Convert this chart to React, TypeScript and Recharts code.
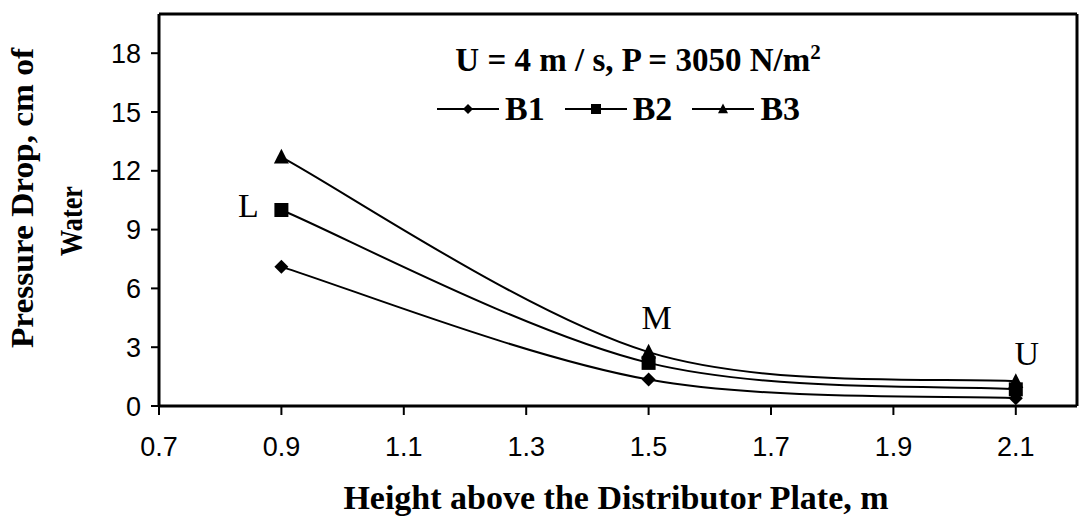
import React from "react"
import {
  LineChart,
  Line,
  XAxis,
  YAxis,
  Legend,
  ReferenceLine,
  ReferenceDot,
} from "recharts"

// heights above the distributor plate (m)
const HEIGHTS = [0.9, 1.5, 2.1]
// pressure drop, cm of water
const B1 = [7.1, 1.35, 0.4]
const B2 = [10.0, 2.2, 0.85]
const B3 = [12.7, 2.75, 1.25]
const SERIES = ["B1", "B2", "B3"]
const ZONES = ["L", "M", "U"]
const X_TICKS = [0.7, 0.9, 1.1, 1.3, 1.5, 1.7, 1.9, 2.1]
const Y_TICKS = [0, 3, 6, 9, 12, 15, 18]

const data = HEIGHTS.map((h, i) => ({ h, B1: B1[i], B2: B2[i], B3: B3[i] }))

const SERIF = "'Liberation Serif', 'Times New Roman', serif"
const SANS = "'Liberation Sans', Arial, sans-serif"

const SHAPES: Record<string, string> = { B1: "diamond", B2: "square", B3: "triangle" }

// spreadsheet-style smoothed line: cubic beziers with catmull-rom tangents
function smoothCurve(context: any) {
  let pts: number[][] = []
  return {
    areaStart() {},
    areaEnd() {},
    lineStart() {
      pts = []
    },
    point(x: number, y: number) {
      pts.push([+x, +y])
    },
    lineEnd() {
      if (!pts.length) return
      context.moveTo(pts[0][0], pts[0][1])
      for (let i = 0; i < pts.length - 1; i++) {
        const p0 = pts[i - 1] || pts[i]
        const p1 = pts[i]
        const p2 = pts[i + 1]
        const p3 = pts[i + 2] || pts[i + 1]
        context.bezierCurveTo(
          p1[0] + (p2[0] - p0[0]) / 6,
          p1[1] + (p2[1] - p0[1]) / 6,
          p2[0] - (p3[0] - p1[0]) / 6,
          p2[1] - (p3[1] - p1[1]) / 6,
          p2[0],
          p2[1]
        )
      }
    },
  }
}

function Marker({ cx, cy, shape, size }: { cx: number; cy: number; shape: string; size: number }) {
  const s = size / 2
  if (shape === "square") {
    return <rect x={cx - s} y={cy - s} width={size} height={size} fill="#000" />
  }
  if (shape === "triangle") {
    return (
      <polygon
        points={`${cx},${cy - s * 1.1} ${cx + s},${cy + s * 0.85} ${cx - s},${cy + s * 0.85}`}
        fill="#000"
      />
    )
  }
  return (
    <polygon points={`${cx},${cy - s} ${cx + s},${cy} ${cx},${cy + s} ${cx - s},${cy}`} fill="#000" />
  )
}

const dotFor = (name: string, size: number) => (p: any) =>
  <Marker key={`${name}-${p.index}`} cx={p.cx} cy={p.cy} shape={SHAPES[name]} size={size} />

function YTitle() {
  return (
    <g fontFamily={SERIF} fontWeight="bold" fontSize={32} fill="#000">
      <text
        x={33}
        y={198}
        transform="rotate(-90 33 198)"
        textAnchor="middle"
        textLength={300}
        lengthAdjust="spacingAndGlyphs"
      >
        Pressure Drop, cm of
      </text>
      <text
        x={82}
        y={221}
        transform="rotate(-90 82 221)"
        textAnchor="middle"
        textLength={70}
        lengthAdjust="spacingAndGlyphs"
      >
        Water
      </text>
    </g>
  )
}

function XTitle() {
  return (
    <text x={616} y={509} textAnchor="middle" fontFamily={SERIF} fontWeight="bold" fontSize={34} fill="#000">
      Height above the Distributor Plate, m
    </text>
  )
}

// offsets of the zone letters from the point they belong to
const ZONE_OFFSET: Record<string, [number, number]> = {
  L: [-33, -5],
  M: [8, -35],
  U: [11, -28],
}

const zoneLabel = (zone: string) => (props: any) => {
  const vb = props.viewBox || {}
  const [dx, dy] = ZONE_OFFSET[zone]
  return (
    <text
      x={vb.x + dx}
      y={vb.y + dy}
      textAnchor="middle"
      dominantBaseline="central"
      fontFamily={SERIF}
      fontSize={34}
      fill="#000"
    >
      {zone}
    </text>
  )
}

function LegendBox(props: any) {
  const payload = props.payload || []
  return (
    <div style={{ position: "relative", height: 130, fontFamily: SERIF, fontWeight: "bold", color: "#000" }}>
      <div
        style={{
          position: "absolute",
          left: 338,
          top: 43,
          width: 600,
          textAlign: "center",
          fontSize: 33,
          lineHeight: "34px",
          whiteSpace: "nowrap",
        }}
      >
        U = 4 m / s, P = 3050 N/m<sup style={{ fontSize: 21, lineHeight: 0 }}>2</sup>
      </div>
      <div
        style={{
          position: "absolute",
          left: 437,
          top: 92,
          display: "flex",
          alignItems: "center",
          fontSize: 34,
          lineHeight: "34px",
        }}
      >
        {payload.map((entry: any) => (
          <div key={entry.value} style={{ display: "flex", alignItems: "center", marginRight: 20 }}>
            <svg width={62} height={20}>
              <line x1={0} y1={10} x2={62} y2={10} stroke="#000" strokeWidth={2} />
              <Marker cx={31} cy={10} shape={SHAPES[entry.value]} size={10} />
            </svg>
            <span style={{ marginLeft: 6 }}>{entry.value}</span>
          </div>
        ))}
      </div>
    </div>
  )
}

export default function App() {
  const seriesValues: Record<string, number[]> = { B1, B2, B3 }
  return (
    <div style={{ position: "fixed", left: 0, top: 0, width: 1081, height: 525, background: "#fff" }}>
      <LineChart width={1081} height={525} data={data} margin={{ top: 14, right: 4, left: 99, bottom: 59 }}>
        <XAxis
          type="number"
          dataKey="h"
          domain={[0.7, 2.2]}
          ticks={X_TICKS}
          tickFormatter={(v: number) => v.toFixed(1)}
          allowDataOverflow
          height={60}
          axisLine={{ stroke: "#000", strokeWidth: 3 }}
          tickLine={{ stroke: "#000", strokeWidth: 2 }}
          tickSize={9}
          tickMargin={22}
          tick={{ fill: "#000", fontFamily: SANS, fontSize: 27 }}
          label={<XTitle />}
        />
        <YAxis
          type="number"
          domain={[0, 20]}
          ticks={Y_TICKS}
          allowDataOverflow
          width={60}
          axisLine={{ stroke: "#000", strokeWidth: 3 }}
          tickLine={{ stroke: "#000", strokeWidth: 2 }}
          tickSize={8}
          tickMargin={10}
          tick={{ fill: "#000", fontFamily: SANS, fontSize: 27 }}
          label={<YTitle />}
        />
        <ReferenceLine y={20} stroke="#000" strokeWidth={3} />
        <ReferenceLine x={2.2} stroke="#000" strokeWidth={3} />
        {SERIES.map((name) => (
          <Line
            key={name}
            type={smoothCurve as any}
            dataKey={name}
            name={name}
            stroke="#000"
            strokeWidth={2}
            dot={dotFor(name, name === "B3" ? 15 : 14)}
            isAnimationActive={false}
          />
        ))}
        {ZONES.map((zone, i) => {
          const anchor = zone === "L" ? seriesValues.B2 : seriesValues.B3
          return (
            <ReferenceDot
              key={zone}
              x={HEIGHTS[i]}
              y={anchor[i]}
              r={0}
              fill="none"
              stroke="none"
              label={zoneLabel(zone)}
            />
          )
        })}
        <Legend
          layout="horizontal"
          verticalAlign="middle"
          align="center"
          wrapperStyle={{ left: 0, top: 0, width: 1081 }}
          content={<LegendBox />}
        />
      </LineChart>
    </div>
  )
}
